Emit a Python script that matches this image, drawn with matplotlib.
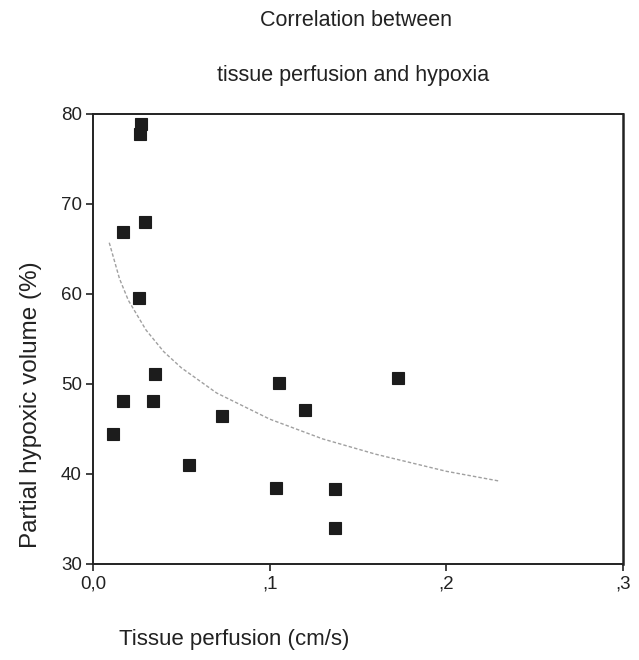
import matplotlib
matplotlib.use("Agg")
import matplotlib.pyplot as plt

plt.rcParams['font.family'] = ['Liberation Sans', 'DejaVu Sans']

# Data points (tissue perfusion cm/s, partial hypoxic volume %)
perfusion = [0.0272, 0.0264, 0.0294, 0.0167, 0.0260, 0.0351, 0.0167, 0.0341,
             0.0115, 0.0730, 0.0545, 0.1054, 0.1036, 0.1198, 0.1371, 0.1371, 0.1728]
hypoxic = [78.9, 77.8, 68.0, 66.9, 59.6, 51.1, 48.1, 48.1,
           44.4, 46.5, 41.0, 50.1, 38.5, 47.1, 38.3, 34.0, 50.7]

# Fitted curve
curve_x = [0.0092, 0.015, 0.02, 0.03, 0.04, 0.05, 0.07, 0.10, 0.13, 0.16, 0.20, 0.2304]
curve_y = [65.7, 61.7, 59.3, 56.0, 53.6, 51.8, 49.0, 46.1, 43.9, 42.2, 40.3, 39.2]

x_ticks = [0.0, 0.1, 0.2, 0.3]
x_tick_labels = ['0,0', ',1', ',2', ',3']
y_ticks = [30, 40, 50, 60, 70, 80]

fig = plt.figure(figsize=(6.39, 6.60), dpi=100)
ax = fig.add_axes([93/639, 1 - 564/660, (623 - 93)/639, (564 - 114)/660])

ax.plot(curve_x, curve_y, color='#a0a0a0', lw=1.0, linestyle=(0, (2.5, 1.5)), zorder=2)
ax.plot(perfusion, hypoxic, linestyle='none', marker='s', ms=8,
        color='#1c1c1c', markeredgewidth=0.8, markeredgecolor='#1c1c1c', zorder=3)

ax.set_xlim(0, 0.3)
ax.set_ylim(30, 80)
ax.set_xticks(x_ticks)
ax.set_xticklabels(x_tick_labels)
ax.set_yticks(y_ticks)
ax.tick_params(direction='out', length=5, width=1.2, labelsize=13.5, colors='#222222', pad=3)
for s in ax.spines.values():
    s.set_linewidth(1.4)
    s.set_color('#222222')
ax.spines['right'].set_linewidth(1.8)

fig.text(356/639, 1 - 21/660, 'Correlation between', ha='center', va='center', fontsize=15.5, color='#222222')
fig.text(353/639, 1 - 75/660, 'tissue perfusion and hypoxia', ha='center', va='center', fontsize=15.5, color='#222222')
fig.text(234/639, 1 - 640/660, 'Tissue perfusion (cm/s)', ha='center', va='center', fontsize=16, color='#222222')
fig.text(31/639, 1 - 405/660, 'Partial hypoxic volume (%)', ha='center', va='center', rotation=90, fontsize=17.5, color='#222222')

fig.savefig('out.png', dpi=100)
